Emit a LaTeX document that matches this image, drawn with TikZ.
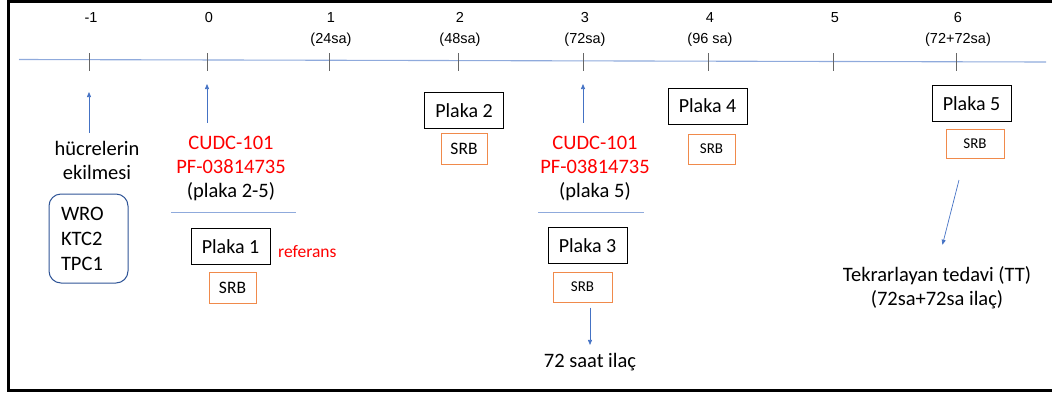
\documentclass[tikz,border=0pt]{standalone}
\usepackage{fontspec,tikz}
\setmainfont{Carlito}
\newfontfamily\axisfont{Liberation Sans}
\usetikzlibrary{arrows.meta}
\definecolor{arrowblue}{HTML}{4472C4}
\definecolor{axisblue}{HTML}{8FAADC}
\definecolor{boxblue}{HTML}{2F5597}
\definecolor{srborange}{HTML}{F08A4B}
\definecolor{drugred}{HTML}{FF0000}

\begin{document}
\begin{tikzpicture}[x=1pt,y=-1pt,
  plaka/.style={draw,line width=0.9pt,minimum width=79pt,minimum height=36pt,inner sep=0pt,font=\fontsize{20}{24}\selectfont},
  srb/.style={draw=srborange,line width=1pt,inner sep=0pt,minimum height=31pt},
  txt/.style={align=center,inner sep=0pt,font=\fontsize{20.5}{24}\selectfont},
  axislbl/.style={anchor=north,align=center,inner sep=0pt,font=\axisfont\fontsize{14.5}{21}\selectfont},
  tickln/.style={draw=black!60,line width=0.8pt},
  arr/.style={draw=arrowblue,line width=0.7pt,-{Triangle[length=5pt,width=4pt]}},
  sepline/.style={draw=axisblue,line width=1pt}]
\path[use as bounding box] (0,0) rectangle (1052,394);
% frame
\draw[line width=2.2pt] (1052,1.5) -- (8.5,1.5) -- (8.5,390.5) -- (1052,390.5);
% time axis
\draw[draw=axisblue,line width=1.1pt] (19,59.5) -- (1046,62);
\foreach \n/\x/\lbl in {m1/89/-1, 0/207/0, 1/329/{1\\(24sa)}, 2/458/{2\\(48sa)}, 3/583/{3\\(72sa)}, 4/708/{4\\(96 sa)}, 5/833/5, 6/956/{6\\(72+72sa)}}{
  \coordinate (t\n) at (\x,62);
  \draw[tickln] ([yshift=9pt]t\n) -- ([yshift=-9pt]t\n);
  \node[axislbl] (lbl\n) at (\x+2,12) {\lbl};
}
% day -1
\node[txt] (seed) at (97,160) {hücrelerin\\ekilmesi};
\node[draw=boxblue,line width=1pt,rounded corners=12pt,minimum width=79pt,minimum height=89pt,text width=55pt,align=left,inner sep=0pt,font=\fontsize{20.5}{25}\selectfont] (lines) at (88.5,238.5) {WRO\\KTC2\\TPC1};
\draw[arr,shorten <=8pt,shorten >=30pt] (seed.north -| tm1) -- (tm1);
% day 0
\node[txt] (drug0) at (231,168) {\textcolor{drugred}{CUDC-101}\\\textcolor{drugred}{PF-03814735}\\(plaka 2-5)};
\draw[arr,shorten <=13pt,shorten >=22pt] (drug0.north -| t0) -- (t0);
\draw[sepline] (171,212) -- (296,212);
\node[plaka] (p1) at (230.5,246.5) {Plaka 1};
\node[anchor=base west,inner sep=0pt,text=drugred,font=\fontsize{17.5}{21}\selectfont] (ref) at (278,257) {referans};
\node[srb,minimum width=47pt,font=\fontsize{17.5}{21}\selectfont] (srb1) at (232.5,288) {SRB};
% day 2
\node[plaka] (p2) at (464,110.5) {Plaka 2};
\node[srb,minimum width=46pt,font=\fontsize{17.5}{21}\selectfont] (srb2) at (464,149) {SRB};
% day 3
\node[txt] (drug3) at (595,168) {\textcolor{drugred}{CUDC-101}\\\textcolor{drugred}{PF-03814735}\\(plaka 5)};
\draw[arr,shorten <=13pt,shorten >=22pt] (drug3.north -| t3) -- (t3);
\draw[sepline] (538,212) -- (644,212);
\node[plaka] (p3) at (587.5,245.5) {Plaka 3};
\node[srb,minimum width=59pt,minimum height=30pt,font=\fontsize{15}{18}\selectfont] (srb3) at (582.5,287) {SRB};
\node[txt] (ilac) at (590,362) {72 saat ilaç};
\draw[arr,shorten <=5pt,shorten >=8pt] (srb3.south -| ilac) -- (ilac.north);
% day 4
\node[plaka] (p4) at (707.5,106) {Plaka 4};
\node[srb,minimum width=47pt,minimum height=30pt,font=\fontsize{15}{18}\selectfont] (srb4) at (711.5,149) {SRB};
% day 6
\node[plaka] (p5) at (971.5,103.5) {Plaka 5};
\node[srb,minimum width=58pt,minimum height=29pt,font=\fontsize{15}{18}\selectfont] (srb5) at (975,143.5) {SRB};
\node[txt] (tt) at (937,287.5) {Tekrarlayan tedavi (TT)\\(72sa+72sa ilaç)};
\coordinate (ttfrom) at (959,180);
\draw[arr,shorten >=22pt] (ttfrom) -- (tt.north);
\end{tikzpicture}
\end{document}
